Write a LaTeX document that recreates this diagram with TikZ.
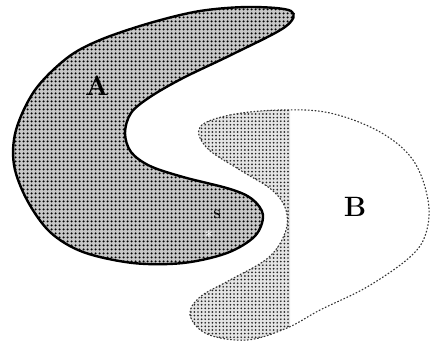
\documentclass[tikz,border=0pt]{standalone}
\usetikzlibrary{patterns.meta}
\begin{document}
\begin{tikzpicture}[x=1pt,y=-1pt,
  regionA/.style={draw=black,line width=2.4pt,preaction={fill=black!22},pattern={Dots[distance=4pt,radius=1.4pt]},pattern color=black},
  regionBfill/.style={preaction={fill=black!10},pattern={Dots[distance=3.6pt,radius=0.95pt]},pattern color=black!85},
  regionBline/.style={draw=black!80,line width=1.1pt,dash pattern=on 1.6pt off 1.8pt},
  biglabel/.style={font=\fontsize{28}{30}\selectfont\bfseries,inner sep=0pt},
  smalllabel/.style={font=\fontsize{12}{13}\selectfont\bfseries,inner sep=0pt}]
\useasboundingbox (0,0) rectangle (433,348);
% region B (lightly dotted on the left half)
\begin{scope}
  \clip (0,0) rectangle (290,348);
  \path[regionBfill] plot[smooth cycle,tension=0.6] coordinates {
    (200,127) (230,115) (280,110) (330,113) (380,132) (413,160) (428,200)
    (426,233) (410,257) (367,287) (320,310) (287,328) (247,340) (207,334)
    (190,315) (200,297) (230,280) (268,258) (285,233) (286,210) (272,190)
    (240,170) (207,148)};
\end{scope}
\draw[regionBline] plot[smooth cycle,tension=0.6] coordinates {
    (200,127) (230,115) (280,110) (330,113) (380,132) (413,160) (428,200)
    (426,233) (410,257) (367,287) (320,310) (287,328) (247,340) (207,334)
    (190,315) (200,297) (230,280) (268,258) (285,233) (286,210) (272,190)
    (240,170) (207,148)};
% region A
\path[regionA] plot[smooth cycle,tension=0.55] coordinates {
    (291,11) (250,7) (200,11) (150,23) (100,40) (67,58) (35,90) (16,130)
    (14,165) (27,200) (50,232) (83,252) (133,263) (183,263) (227,253)
    (255,236) (263,215) (252,199) (230,189) (183,177) (150,166) (131,152)
    (125,133) (131,113) (150,97) (183,78) (233,54) (285,27)};
% labels
\node[biglabel] (labA) at (97,86) {A};
\node[biglabel] (labB) at (355,207) {B};
\node[smalllabel,text=black] (labS) at (217,214) {S};
\node[smalllabel,text=white] (labStar) at (209,234) {\fontsize{16}{16}\selectfont$\ast$};
\end{tikzpicture}
\end{document}
